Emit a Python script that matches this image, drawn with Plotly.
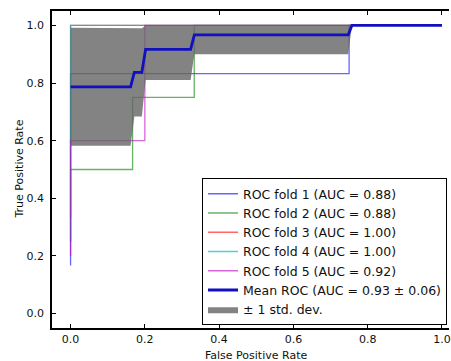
import plotly.graph_objects as go

# ---- data ----
fold_names = ["ROC fold 1 (AUC = 0.88)", "ROC fold 2 (AUC = 0.88)",
              "ROC fold 3 (AUC = 1.00)", "ROC fold 4 (AUC = 1.00)",
              "ROC fold 5 (AUC = 0.92)"]
fold1_fpr = [0.0, 0.0, 0.75, 0.75, 1.0]
fold1_tpr = [0.167, 0.833, 0.833, 1.0, 1.0]
fold2_fpr = [0.0, 0.0, 0.167, 0.167, 0.333, 0.333, 1.0]
fold2_tpr = [0.25, 0.5, 0.5, 0.75, 0.75, 1.0, 1.0]
fold3_fpr = [0.0, 0.0, 1.0]
fold3_tpr = [0.333, 1.0, 1.0]
fold4_fpr = [0.0, 0.0, 1.0]
fold4_tpr = [0.25, 1.0, 1.0]
fold5_fpr = [0.0, 0.0, 0.2, 0.2, 1.0]
fold5_tpr = [0.2, 0.6, 0.6, 1.0, 1.0]

mean_fpr = [0.0, 0.1616, 0.1717, 0.1919, 0.2020, 0.3232, 0.3333, 0.7475, 0.7576, 1.0]
mean_tpr = [0.787, 0.787, 0.837, 0.837, 0.917, 0.917, 0.967, 0.967, 1.0, 1.0]
std_upper = [0.992, 0.992, 0.990, 0.990, 1.0, 1.0, 1.0, 1.0, 1.0, 1.0]
std_lower = [0.582, 0.582, 0.684, 0.684, 0.811, 0.811, 0.900, 0.900, 1.0, 1.0]
mean_name = "Mean ROC (AUC = 0.93 \u00b1 0.06)"
std_name = "\u00b1 1 std. dev."

x_ticks = [0.0, 0.2, 0.4, 0.6, 0.8, 1.0]
y_ticks = [0.0, 0.2, 0.4, 0.6, 0.8, 1.0]

fold_fprs = [fold1_fpr, fold2_fpr, fold3_fpr, fold4_fpr, fold5_fpr]
fold_tprs = [fold1_tpr, fold2_tpr, fold3_tpr, fold4_tpr, fold5_tpr]
fold_colors = ["rgba(0,0,255,0.6)", "rgba(0,128,0,0.6)", "rgba(255,0,0,0.6)",
               "rgba(0,191,191,0.7)", "rgba(191,0,191,0.6)"]

fig = go.Figure()
for i in range(5):
    fig.add_trace(go.Scatter(x=fold_fprs[i], y=fold_tprs[i], mode="lines",
                             name=fold_names[i], legendrank=i + 1,
                             line=dict(color=fold_colors[i], width=1.3)))

fig.add_trace(go.Scatter(x=mean_fpr, y=std_upper, mode="lines",
                         line=dict(width=0, color="rgba(0,0,0,0)"),
                         showlegend=False, hoverinfo="skip"))
fig.add_trace(go.Scatter(x=mean_fpr, y=std_lower, mode="lines", name=std_name,
                         fill="tonexty", fillcolor="rgba(100,100,100,0.8)",
                         line=dict(width=0, color="rgba(100,100,100,0.8)"),
                         legendrank=7))
fig.add_trace(go.Scatter(x=mean_fpr, y=mean_tpr, mode="lines", name=mean_name,
                         legendrank=6,
                         line=dict(color="#1010c0", width=2.8)))

font = "DejaVu Sans"
fig.update_layout(
    width=451, height=361,
    margin=dict(l=52, r=0, t=11, b=33),
    paper_bgcolor="white", plot_bgcolor="white",
    font=dict(family=font, size=11, color="#111"),
    showlegend=True,
    legend=dict(x=0.995, xanchor="right", y=0.009, yanchor="bottom",
                bgcolor="white", bordercolor="black", borderwidth=1,
                font=dict(family=font, size=12.5, color="#111"),
                traceorder="normal", tracegroupgap=0),
    xaxis=dict(range=[-0.05, 1.019], tickvals=x_ticks, tickformat=".1f",
               showgrid=False, zeroline=False, showline=True, linecolor="black",
               linewidth=1.5, mirror="ticks", ticks="inside", ticklen=4,
               tickcolor="black", ticklabelstandoff=0,
               ticklabeloverflow="allow",
               tickfont=dict(family=font, size=11, color="#111")),
    yaxis=dict(range=[-0.05, 1.05], tickvals=y_ticks, tickformat=".1f",
               showgrid=False, zeroline=False, showline=True, linecolor="black",
               linewidth=1.5, ticks="inside", ticklen=4, tickcolor="black",
               ticklabelstandoff=4,
               tickfont=dict(family=font, size=11, color="#111")),
    annotations=[
        dict(text="False Positive Rate", xref="paper", yref="paper",
             x=0.514, y=-0.087, xanchor="center", yanchor="middle",
             showarrow=False, font=dict(family=font, size=11, color="#111")),
        dict(text="True Positive Rate", xref="paper", yref="paper",
             x=-0.083, y=0.5, xanchor="center", yanchor="middle",
             textangle=-90, showarrow=False,
             font=dict(family=font, size=11, color="#111")),
    ],
)

fig.write_html("out.html", config={"displayModeBar": False},
               post_script="document.body.style.margin='0px';"
                           "document.body.style.overflow='hidden';")
